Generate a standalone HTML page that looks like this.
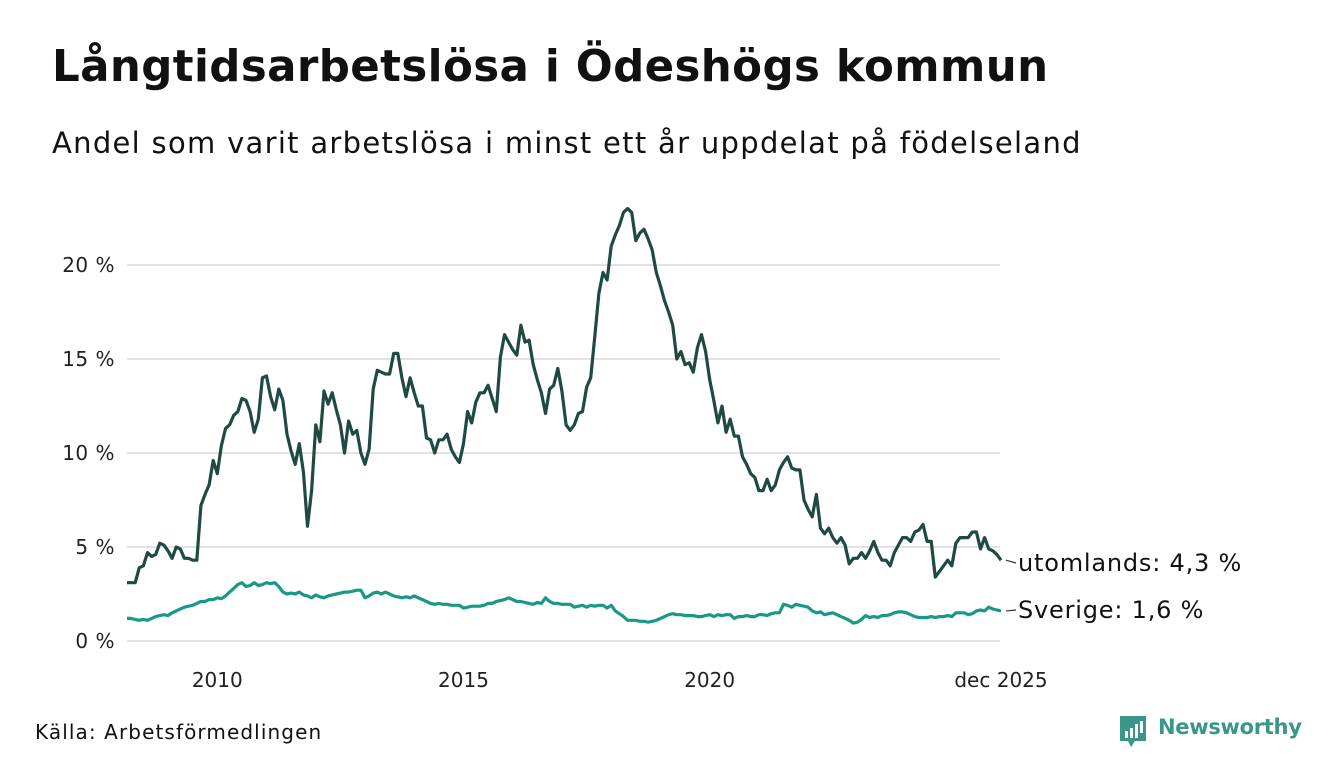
<!DOCTYPE html>
<html><head><meta charset="utf-8">
<style>
body{margin:0;width:1340px;height:780px;background:#fff;font-family:"DejaVu Sans","Liberation Sans",sans-serif;color:#111;overflow:hidden;position:relative}
.t{position:absolute;white-space:nowrap}
</style></head>
<body>
<div class="t" style="left:52px;top:42px;font-size:43.5px;font-weight:bold;letter-spacing:0.4px;">Långtidsarbetslösa i Ödeshögs kommun</div>
<div class="t" style="left:52px;top:126px;font-size:29px;letter-spacing:1.3px;">Andel som varit arbetslösa i minst ett år uppdelat på födelseland</div>
<svg id="chart" width="1340" height="780" style="position:absolute;left:0;top:0"></svg>
<div class="t" style="left:35px;top:720px;font-size:20px;letter-spacing:1.1px;">Källa: Arbetsförmedlingen</div>
<div style="position:absolute;left:1118px;top:714px;">
<svg width="30" height="36"><path d="M2 2h26v25H17l-4 6-3-6H2z" fill="#3a9688"/><rect x="7" y="17" width="3" height="7" fill="#fff"/><rect x="12" y="14" width="3" height="10" fill="#fff"/><rect x="17" y="10" width="3" height="14" fill="#fff"/><rect x="22" y="7" width="3" height="12" fill="#fff"/></svg>
<span class="t" style="left:40px;top:1px;font-size:21px;font-weight:bold;color:#3a9688;letter-spacing:-0.3px;">Newsworthy</span>
</div>
<script>
const yTicks=[0,5,10,15,20];
const yTickLabels=["0 %","5 %","10 %","15 %","20 %"];
const xTickYears=[2010,2015,2020];
const xTickLabels=["2010","2015","2020","dec 2025"];
const utomlands=[3.1,3.1,3.1,3.9,4.0,4.7,4.5,4.6,5.2,5.1,4.8,4.4,5.0,4.9,4.4,4.4,4.3,4.3,
7.2,7.8,8.3,9.6,8.9,10.4,11.3,11.5,12.0,12.2,12.9,12.8,12.2,11.1,11.8,14.0,14.1,13.0,12.3,13.4,12.8,11.0,10.1,9.4,10.5,9.0,6.1,8.0,11.5,10.6,13.3,12.6,13.2,12.3,11.5,10.0,11.7,11.0,11.2,10.0,9.4,10.2,13.4,14.4,14.3,14.2,14.2,15.3,15.3,
14.0,13.0,14.0,13.2,12.5,12.5,10.8,10.7,10.0,10.7,10.7,11.0,10.2,9.8,9.5,10.5,12.2,11.6,12.7,13.2,13.2,13.6,12.9,12.2,15.1,16.3,15.9,15.5,15.2,16.8,15.9,16.0,14.7,13.9,13.2,12.1,13.4,13.6,14.5,13.3,11.5,11.2,11.5,12.1,12.2,13.5,14.0,16.2,18.5,19.6,19.2,21.0,21.6,22.1,22.8,23.0,22.8,21.3,21.7,21.9,21.4,20.8,19.6,18.9,18.1,17.5,16.8,15.0,15.4,14.7,14.8,14.3,15.6,16.3,15.4,13.9,12.8,11.6,12.5,11.1,11.8,10.9,10.9,9.8,9.4,8.9,8.7,8.0,8.0,8.6,8.0,8.3,9.1,9.5,9.8,9.2,9.1,9.1,7.5,7.0,6.6,7.8,6.0,5.7,6.0,5.5,5.2,5.5,5.1,4.1,4.4,4.4,4.7,4.4,4.8,5.3,4.7,4.3,4.3,4.0,4.7,5.1,5.5,5.5,5.3,5.8,5.9,6.2,5.3,5.3,3.4,3.7,4.0,4.3,4.0,5.2,5.5,5.5,5.5,5.8,5.8,4.9,5.5,4.9,4.8,4.6,4.3];
const sverige=[1.2,1.2,1.15,1.1,1.15,1.1,1.2,1.3,1.35,1.4,
1.35,1.5,1.6,1.7,1.8,1.85,1.9,2.0,2.1,2.1,2.2,2.2,
2.3,2.25,2.4,2.6,2.8,3.0,3.1,2.9,2.95,3.1,2.95,3.0,
3.1,3.05,3.1,2.9,2.6,2.5,2.55,2.5,2.6,2.45,2.4,2.3,
2.45,2.35,2.3,2.4,2.45,2.5,2.55,2.6,2.6,2.65,2.7,2.7,
2.3,2.4,2.55,2.6,2.5,2.6,2.5,2.4,2.35,2.3,2.35,2.3,
2.4,2.3,2.2,2.1,2.0,1.95,2.0,1.95,1.95,1.9,1.9,1.9,
1.75,1.8,1.85,1.85,1.85,1.9,2.0,2.0,2.1,2.15,2.2,2.3,
2.2,2.1,2.1,2.05,2.0,1.95,2.05,2.0,2.3,2.1,2.0,2.0,
1.95,1.95,1.95,1.8,1.85,1.9,1.8,1.9,1.85,1.9,1.9,1.75,
1.9,1.6,1.45,1.3,1.1,1.1,1.1,1.05,1.05,1.0,1.05,1.1,
1.2,1.3,1.4,1.45,1.4,1.4,1.35,1.35,1.35,1.3,1.3,1.35,
1.4,1.3,1.4,1.35,1.4,1.4,1.2,1.3,1.3,1.35,1.3,1.3,
1.4,1.4,1.35,1.45,1.5,1.5,1.95,1.9,1.8,1.95,1.9,1.85,
1.8,1.6,1.5,1.55,1.4,1.45,1.5,1.4,1.3,1.2,1.1,0.95,
1.0,1.15,1.35,1.25,1.3,1.25,1.35,1.35,1.4,1.5,1.55,1.55,
1.5,1.4,1.3,1.25,1.25,1.25,1.3,1.25,1.3,1.3,1.35,1.3,
1.5,1.5,1.5,1.4,1.45,1.6,1.65,1.6,1.8,1.7,1.65,1.6];
const seriesNames=["utomlands","Sverige"];
const NS="http://www.w3.org/2000/svg";
const FONT='DejaVu Sans, Liberation Sans, sans-serif';
const svg=document.getElementById('chart');
const endT=2025+11/12;
const x0=127,x1=1001;
const startT=endT-213/12;
function xs(t){return x0+(t-startT)/(endT-startT)*(x1-x0);}
function ys(v){return 641-v*18.8;}
function mk(tag,attrs){const e=document.createElementNS(NS,tag);for(const k in attrs)e.setAttribute(k,attrs[k]);svg.appendChild(e);return e;}
yTicks.forEach((v,i)=>{
  const g=mk('line',{x1:127,x2:1000,y1:ys(v),y2:ys(v),stroke:'#e2e2e6','stroke-width':2});
  
  
  const t=mk('text',{x:115,y:ys(v)+7,'text-anchor':'end','font-size':20,fill:'#222','font-family':FONT,'letter-spacing':'0.5'});
  t.textContent=yTickLabels[i];
  
  
});
xTickYears.forEach((yr,i)=>{
  const t=mk('text',{x:xs(yr),y:687,'text-anchor':'middle','font-size':20,fill:'#222','font-family':FONT});
  t.textContent=xTickLabels[i];
  
  
});
{const t=mk('text',{x:xs(endT),y:687,'text-anchor':'middle','font-size':20,fill:'#222','font-family':FONT});
t.textContent=xTickLabels[3];

}
function line(arr,color,name){
  const n=arr.length;
  const d=arr.map((v,i)=>{const t=endT-(n-1-i)/12;return (i?'L':'M')+xs(t).toFixed(1)+' '+ys(v).toFixed(1);}).join(' ');
  const p=mk('path',{d:d,fill:'none',stroke:color,'stroke-width':3.2,'stroke-linejoin':'round'});
  
  
}
line(sverige,'#1a9886','line-sverige');
line(utomlands,'#1f4a44','line-utomlands');
function endLabel(arr,txt,labelY,name){
  const v=arr[arr.length-1];
  const l=mk('line',{x1:xs(endT)+5,y1:ys(v),x2:xs(endT)+15,y2:labelY,stroke:'#333','stroke-width':1.2});
  
  
  const t=mk('text',{x:xs(endT)+17,y:labelY+8,'font-size':24,fill:'#111','font-family':FONT,'letter-spacing':'0.8'});
  t.textContent=txt;
  
  
}
endLabel(utomlands,seriesNames[0]+': '+utomlands[utomlands.length-1].toFixed(1).replace('.',',')+' %',563,'label-utomlands');
endLabel(sverige,seriesNames[1]+': '+sverige[sverige.length-1].toFixed(1).replace('.',',')+' %',610,'label-sverige');
</script>
</body></html>
